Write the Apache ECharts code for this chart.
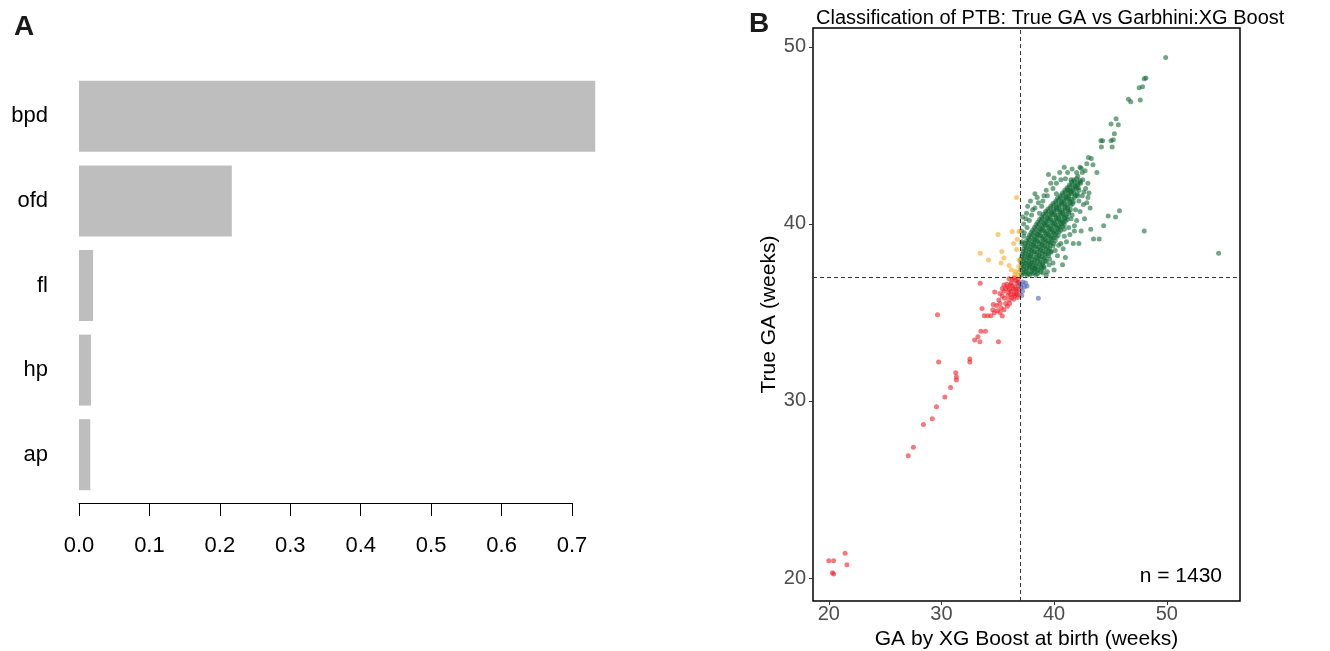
<!DOCTYPE html>
<html>
<head>
<meta charset="utf-8">
<title>PTB feature importance and classification</title>
<script src="https://cdn.jsdelivr.net/npm/echarts@6.0.0/dist/echarts.min.js"></script>
<style>
  html, body { margin: 0; padding: 0; background: #ffffff; }
  #main { width: 1330px; height: 651px; }
</style>
</head>
<body>
<div id="main"></div>
<script>
// panel A: feature importance
var features = ["bpd", "ofd", "fl", "hp", "ap"];
var importance = [0.733, 0.217, 0.02, 0.017, 0.016];
var importanceTicks = [0, 0.1, 0.2, 0.3, 0.4, 0.5, 0.6, 0.7];

// panel B: [GA by XG Boost, true GA] in weeks
var gaTicks = [20, 30, 40, 50];
var cutoff = 37;

// true preterm, predicted preterm
var redPoints = [
  [20.0, 20.98], [20.43, 20.98], [21.45, 21.4], [21.61, 20.75], [20.43, 20.23], [20.33, 20.3],
  [27.05, 26.9], [27.51, 27.39], [28.4, 28.67], [29.19, 29.0], [29.56, 29.68], [30.31, 30.22],
  [30.81, 30.76], [31.27, 31.6], [31.33, 31.18], [31.33, 31.36], [29.75, 32.2], [32.52, 32.37],
  [32.52, 32.2], [29.65, 34.87], [32.95, 33.44], [33.24, 33.63], [33.41, 33.35], [33.5, 33.94],
  [33.9, 33.94], [35.06, 33.35], [33.6, 35.22], [33.8, 34.82], [34.1, 34.82], [34.4, 34.82],
  [34.56, 35.15], [34.7, 34.99], [34.96, 35.1], [35.4, 34.8], [35.2, 35.0], [35.55, 35.15],
  [35.2, 35.5], [35.7, 35.5], [36.05, 35.5], [34.6, 35.45], [33.44, 36.65], [34.73, 36.16],
  [35.39, 35.93], [35.55, 36.2], [35.88, 36.44], [36.2, 36.67], [36.37, 36.32], [36.54, 36.44],
  [36.7, 36.67], [35.9, 35.96], [36.2, 36.2], [36.7, 36.2], [36.54, 35.96], [36.0, 35.7],
  [35.6, 35.8], [36.3, 36.86], [36.8, 36.86], [35.55, 36.55], [35.2, 36.07], [36.05, 36.3],
  [36.45, 36.05], [36.85, 36.5], [36.6, 36.8], [36.1, 36.55], [36.9, 36.0], [36.4, 35.75],
  [36.0, 36.9], [35.8, 36.6], [36.3, 36.5], [36.6, 36.3], [36.85, 36.7], [36.15, 36.0],
  [35.7, 36.35], [36.45, 36.95], [36.75, 35.85], [35.95, 36.15], [36.25, 35.85], [35.4, 36.35],
  [35.1, 35.7], [34.9, 35.4], [35.85, 35.35], [36.9, 36.3], [36.65, 36.05], [35.3, 35.25]
];

// true term, predicted preterm
var orangePoints = [
  [36.67, 41.49], [35.02, 39.41], [36.28, 39.57], [36.87, 39.57], [36.41, 38.9], [36.74, 39.13],
  [33.44, 38.35], [35.36, 38.45], [34.17, 37.96], [35.55, 38.07], [35.29, 37.79], [36.0, 37.65],
  [36.2, 37.42], [36.57, 37.33], [36.87, 37.6], [36.9, 37.96], [36.8, 37.1], [36.67, 38.55],
  [36.5, 37.15], [36.9, 37.3]
];

// true preterm, predicted term
var bluePoints = [
  [37.23, 36.72], [37.46, 36.67], [37.07, 36.44], [37.36, 36.44], [37.6, 36.49], [37.13, 35.96],
  [38.6, 35.8], [37.2, 36.2], [37.03, 36.6]
];

// true term, predicted term
var greenPoints = [
  [49.9, 49.4], [48.15, 48.25], [48.0, 48.2], [47.55, 47.7], [47.85, 47.75], [46.6, 47.05],
  [46.8, 46.9], [47.65, 47.0], [45.5, 45.95], [45.7, 45.6], [45.05, 45.65], [45.35, 45.1],
  [44.15, 44.7], [44.3, 44.7], [45.05, 44.7], [45.25, 44.75], [44.2, 44.35], [45.15, 44.35],
  [43.05, 43.75], [43.3, 43.7], [42.4, 43.15], [42.75, 43.0], [43.8, 42.9], [43.45, 43.35],
  [42.9, 43.4], [54.6, 38.35], [48.0, 39.6], [45.8, 40.75], [45.45, 40.4], [44.8, 40.45],
  [44.4, 39.9], [43.25, 39.7], [43.5, 39.15], [44.0, 39.15], [41.7, 38.9], [42.2, 38.9],
  [40.75, 37.7], [37.65, 41.0], [37.2, 40.4], [37.35, 39.5], [37.15, 39.0], [40.6, 42.5],
  [41.0, 42.55], [41.5, 42.5], [40.2, 41.7], [42.65, 41.8], [43.1, 41.75], [42.7, 40.3],
  [41.8, 39.9], [37.85, 37.7], [38.5, 37.35], [39.55, 37.7], [39.0, 37.25], [42.1, 42.7],
  [42.5, 42.9], [42.3, 43.2], [37.6, 39.8], [37.3, 39.3], [37.5, 40.3], [38.0, 40.5],
  [38.3, 40.9], [38.6, 41.2], [39.0, 41.3], [39.4, 41.6], [39.9, 42.0], [40.2, 42.3],
  [39.1, 37.6], [39.6, 38.0], [40.1, 38.5], [40.6, 38.9], [40.9, 39.3], [41.3, 39.8],
  [41.5, 40.3], [41.9, 40.8], [42.2, 41.3], [42.5, 41.6], [42.8, 42.0], [43.0, 42.3],
  [41.2, 42.9], [41.6, 43.1], [42.0, 42.9], [37.15, 38.9], [37.1, 39.6],
  // halo around the dense core
  [37.3, 40.0], [37.8, 40.2], [38.1, 40.8], [38.5, 41.5], [38.9, 41.0], [39.3, 41.9],
  [39.7, 42.3], [40.0, 42.6], [40.5, 42.9], [40.9, 43.2], [37.9, 41.3], [38.3, 41.7],
  [39.5, 42.8], [37.55, 40.6], [38.7, 40.6], [39.1, 41.6], [39.4, 37.3], [39.9, 37.8],
  [40.3, 38.2], [40.8, 38.6], [41.1, 39.0], [41.4, 39.4], [41.8, 39.6], [42.0, 40.2],
  [42.3, 40.7], [42.6, 41.1], [43.0, 41.5], [40.0, 37.4], [39.3, 37.1], [41.0, 38.1],
  [42.4, 39.6], [43.2, 40.9], [42.9, 41.2], [39.7, 38.4], [40.4, 38.8], [40.9, 39.7],
  [41.6, 40.5], [42.1, 41.6], [38.2, 37.5], [38.9, 37.5], [39.2, 37.9], [41.3, 41.9],
  [37.1, 37.1], [37.35, 37.2], [37.6, 37.1], [37.85, 37.15], [38.1, 37.2], [38.4, 37.1],
  [37.05, 37.4], [37.3, 37.45], [37.55, 37.35], [37.8, 37.5], [38.05, 37.4], [38.3, 37.45], [38.6, 37.4],
  [37.15, 37.7], [37.4, 37.75], [37.65, 37.65], [37.9, 37.8], [38.15, 37.7], [38.4, 37.65], [38.7, 37.75], [38.95, 37.7],
  [37.05, 38.0], [37.3, 38.05], [37.55, 37.95], [37.8, 38.1], [38.05, 38.0], [38.3, 37.95], [38.55, 38.05], [38.8, 38.0], [39.1, 38.05],
  [37.2, 38.3], [37.45, 38.35], [37.7, 38.25], [37.95, 38.3], [38.2, 38.4], [38.45, 38.3], [38.7, 38.25], [38.95, 38.35], [39.2, 38.3], [39.45, 38.3],
  [37.3, 38.6], [37.55, 38.65], [37.8, 38.55], [38.05, 38.6], [38.3, 38.7], [38.55, 38.6], [38.8, 38.55], [39.05, 38.65], [39.3, 38.6], [39.6, 38.6],
  [37.45, 38.9], [37.7, 38.95], [37.95, 38.85], [38.2, 38.9], [38.45, 39.0], [38.7, 38.9], [38.95, 38.85], [39.2, 38.95], [39.45, 38.9], [39.7, 38.95], [39.95, 38.9],
  [37.7, 39.2], [37.95, 39.25], [38.2, 39.15], [38.45, 39.2], [38.7, 39.3], [38.95, 39.2], [39.2, 39.15], [39.45, 39.25], [39.7, 39.2], [39.95, 39.2], [40.2, 39.25],
  [37.95, 39.5], [38.2, 39.55], [38.45, 39.45], [38.7, 39.5], [38.95, 39.6], [39.2, 39.5], [39.45, 39.45], [39.7, 39.55], [39.95, 39.5], [40.2, 39.5], [40.45, 39.55],
  [38.25, 39.8], [38.5, 39.85], [38.75, 39.75], [39.0, 39.8], [39.25, 39.9], [39.5, 39.8], [39.75, 39.75], [40.0, 39.85], [40.25, 39.8], [40.5, 39.8], [40.75, 39.85],
  [38.55, 40.1], [38.8, 40.15], [39.05, 40.05], [39.3, 40.1], [39.55, 40.2], [39.8, 40.1], [40.05, 40.05], [40.3, 40.15], [40.55, 40.1], [40.8, 40.1], [41.0, 40.15],
  [38.9, 40.4], [39.15, 40.45], [39.4, 40.35], [39.65, 40.4], [39.9, 40.5], [40.15, 40.4], [40.4, 40.35], [40.65, 40.45], [40.9, 40.4], [41.15, 40.4],
  [39.25, 40.7], [39.5, 40.75], [39.75, 40.65], [40.0, 40.7], [40.25, 40.8], [40.5, 40.7], [40.75, 40.65], [41.0, 40.75], [41.3, 40.7],
  [39.7, 41.0], [39.95, 41.05], [40.2, 40.95], [40.45, 41.0], [40.7, 41.1], [40.95, 41.0], [41.2, 40.95], [41.5, 41.05],
  [40.15, 41.3], [40.4, 41.35], [40.65, 41.25], [40.9, 41.3], [41.15, 41.4], [41.4, 41.3], [41.7, 41.25],
  [40.55, 41.6], [40.8, 41.65], [41.05, 41.55], [41.3, 41.6], [41.55, 41.7], [41.9, 41.6],
  [40.95, 41.9], [41.2, 41.95], [41.45, 41.85], [41.7, 41.9], [42.0, 42.0], [42.2, 41.9],
  [41.35, 42.2], [41.6, 42.25], [41.85, 42.15], [42.1, 42.2], [42.35, 42.3],
  [41.75, 42.5], [42.0, 42.55], [42.3, 42.45], [42.55, 42.5],
  // interleaved rows of the dense core
  [37.2, 37.25], [37.45, 37.3], [37.7, 37.2], [37.95, 37.3], [38.25, 37.25], [38.55, 37.2], [38.8, 37.3],
  [37.1, 37.55], [37.3, 37.6], [37.55, 37.5], [37.8, 37.6], [38.05, 37.55], [38.3, 37.5], [38.55, 37.6], [38.85, 37.55], [39.1, 37.5],
  [37.05, 37.85], [37.25, 37.9], [37.5, 37.8], [37.75, 37.9], [38.0, 37.85], [38.25, 37.8], [38.5, 37.9], [38.75, 37.85], [39.0, 37.8], [39.3, 37.9],
  [37.15, 38.15], [37.4, 38.2], [37.65, 38.1], [37.9, 38.2], [38.15, 38.15], [38.4, 38.1], [38.65, 38.2], [38.9, 38.15], [39.2, 38.1], [39.5, 38.2],
  [37.25, 38.45], [37.5, 38.5], [37.75, 38.4], [38.0, 38.5], [38.25, 38.45], [38.5, 38.4], [38.75, 38.5], [39.0, 38.45], [39.25, 38.4], [39.5, 38.5], [39.75, 38.45],
  [37.4, 38.75], [37.65, 38.8], [37.9, 38.7], [38.15, 38.8], [38.4, 38.75], [38.65, 38.7], [38.9, 38.8], [39.15, 38.75], [39.4, 38.7], [39.65, 38.8], [39.9, 38.75],
  [37.55, 39.05], [37.8, 39.1], [38.05, 39.0], [38.3, 39.1], [38.55, 39.05], [38.8, 39.0], [39.05, 39.1], [39.3, 39.05], [39.55, 39.0], [39.8, 39.1], [40.1, 39.05],
  [37.8, 39.35], [38.05, 39.4], [38.3, 39.3], [38.55, 39.4], [38.8, 39.35], [39.05, 39.3], [39.3, 39.4], [39.55, 39.35], [39.8, 39.3], [40.05, 39.4], [40.35, 39.35],
  [38.1, 39.65], [38.35, 39.7], [38.6, 39.6], [38.85, 39.7], [39.1, 39.65], [39.35, 39.6], [39.6, 39.7], [39.85, 39.65], [40.1, 39.6], [40.35, 39.7], [40.6, 39.65],
  [38.4, 39.95], [38.65, 40.0], [38.9, 39.9], [39.15, 40.0], [39.4, 39.95], [39.65, 39.9], [39.9, 40.0], [40.15, 39.95], [40.4, 39.9], [40.65, 40.0], [40.9, 39.95],
  [38.7, 40.25], [38.95, 40.3], [39.2, 40.2], [39.45, 40.3], [39.7, 40.25], [39.95, 40.2], [40.2, 40.3], [40.45, 40.25], [40.7, 40.2], [40.95, 40.3], [41.15, 40.25],
  [39.05, 40.55], [39.3, 40.6], [39.55, 40.5], [39.8, 40.6], [40.05, 40.55], [40.3, 40.5], [40.55, 40.6], [40.8, 40.55], [41.05, 40.5], [41.3, 40.6],
  [39.45, 40.85], [39.7, 40.9], [39.95, 40.8], [40.2, 40.9], [40.45, 40.85], [40.7, 40.8], [40.95, 40.9], [41.2, 40.85], [41.45, 40.8],
  [39.9, 41.15], [40.15, 41.2], [40.4, 41.1], [40.65, 41.2], [40.9, 41.15], [41.15, 41.1], [41.4, 41.2], [41.65, 41.15],
  [40.3, 41.45], [40.55, 41.5], [40.8, 41.4], [41.05, 41.5], [41.3, 41.45], [41.55, 41.4], [41.8, 41.5],
  [40.75, 41.75], [41.0, 41.8], [41.25, 41.7], [41.5, 41.8], [41.75, 41.75], [42.05, 41.7],
  [41.15, 42.05], [41.4, 42.1], [41.65, 42.0], [41.9, 42.1], [42.15, 42.05],
  [41.55, 42.35], [41.8, 42.4], [42.05, 42.3], [42.3, 42.35]
];

var baseFont = "'Liberation Sans', Arial, Helvetica, sans-serif";

function scatterSeries(name, data, color) {
  return {
    name: name,
    type: "scatter",
    xAxisIndex: 1,
    yAxisIndex: 1,
    symbolSize: 5,
    data: data,
    itemStyle: { color: color, opacity: 0.6 },
  };
}

var myChart = echarts.init(document.getElementById("main"));

var greenSeries = scatterSeries("term", greenPoints, "#136b35");
greenSeries.markLine = {
  silent: true,
  symbol: "none",
  label: { show: false },
  lineStyle: { color: "#333333", type: [4, 3], width: 1 },
  data: [{ xAxis: cutoff }, { yAxis: cutoff }],
};

myChart.setOption({
  backgroundColor: "#ffffff",
  animation: false,
  textStyle: { fontFamily: baseFont },
  title: {
    text: "Classification of PTB: True GA vs Garbhini:XG Boost",
    left: 811,
    top: 3,
    textStyle: { fontSize: 20, fontWeight: "normal", color: "#000000", fontFamily: baseFont },
  },
  graphic: [
    { type: "text", left: 14, top: 13, style: { text: "A", font: "bold 28px " + baseFont, fill: "#1a1a1a" } },
    { type: "text", left: 749, top: 10, style: { text: "B", font: "bold 28px " + baseFont, fill: "#1a1a1a" } },
    { type: "text", right: 108, top: 566, style: { text: "n = 1430", font: "21px " + baseFont, fill: "#000000" } },
  ],
  grid: [
    { left: 79, width: 493, top: 74, height: 423, outerBoundsMode: "none", containLabel: false },
    {
      left: 813, right: 90, top: 28, bottom: 50,
      outerBoundsMode: "none", containLabel: false,
      show: true, borderColor: "#000000", borderWidth: 1.5,
    },
  ],
  xAxis: [
    {
      gridIndex: 0,
      type: "value",
      min: 0,
      max: 0.7,
      interval: 0.1,
      offset: 6,
      axisLine: { show: true, lineStyle: { color: "#000000", width: 1 } },
      axisTick: { show: true, length: 13, lineStyle: { color: "#000000" } },
      axisLabel: {
        margin: 32,
        fontSize: 22,
        color: "#000000",
        formatter: function (v) { return v.toFixed(1); },
      },
      splitLine: { show: false },
    },
    {
      gridIndex: 1,
      type: "value",
      min: 18.6,
      max: 56.5,
      name: "GA by XG Boost at birth (weeks)",
      nameLocation: "middle",
      nameGap: 26,
      nameTextStyle: { fontSize: 21, color: "#000000" },
      axisLine: { show: false },
      axisTick: { show: true, length: 4, customValues: gaTicks, lineStyle: { color: "#333333" } },
      axisLabel: { fontSize: 20, color: "#4d4d4d", margin: 3, customValues: gaTicks },
      splitLine: { show: false },
    },
  ],
  yAxis: [
    {
      gridIndex: 0,
      type: "category",
      inverse: true,
      data: features,
      axisLine: { show: false },
      axisTick: { show: false },
      axisLabel: { margin: 31, fontSize: 22, color: "#000000" },
    },
    {
      gridIndex: 1,
      type: "value",
      min: 18.7,
      max: 51.07,
      name: "True GA (weeks)",
      nameLocation: "middle",
      nameGap: 33,
      nameTextStyle: { fontSize: 21, color: "#000000" },
      axisLine: { show: false },
      axisTick: { show: true, length: 4, customValues: gaTicks, lineStyle: { color: "#333333" } },
      axisLabel: { fontSize: 20, color: "#4d4d4d", margin: 7, customValues: gaTicks },
      splitLine: { show: false },
    },
  ],
  series: [
    {
      name: "importance",
      type: "bar",
      xAxisIndex: 0,
      yAxisIndex: 0,
      data: importance,
      barWidth: 71,
      clip: false,
      itemStyle: { color: "#bebebe" },
    },
    greenSeries,
    scatterSeries("term, predicted preterm", orangePoints, "#f9a825"),
    scatterSeries("preterm", redPoints, "#f01c24"),
    scatterSeries("preterm, predicted term", bluePoints, "#4a62b8"),
  ],
});
</script>
</body>
</html>
